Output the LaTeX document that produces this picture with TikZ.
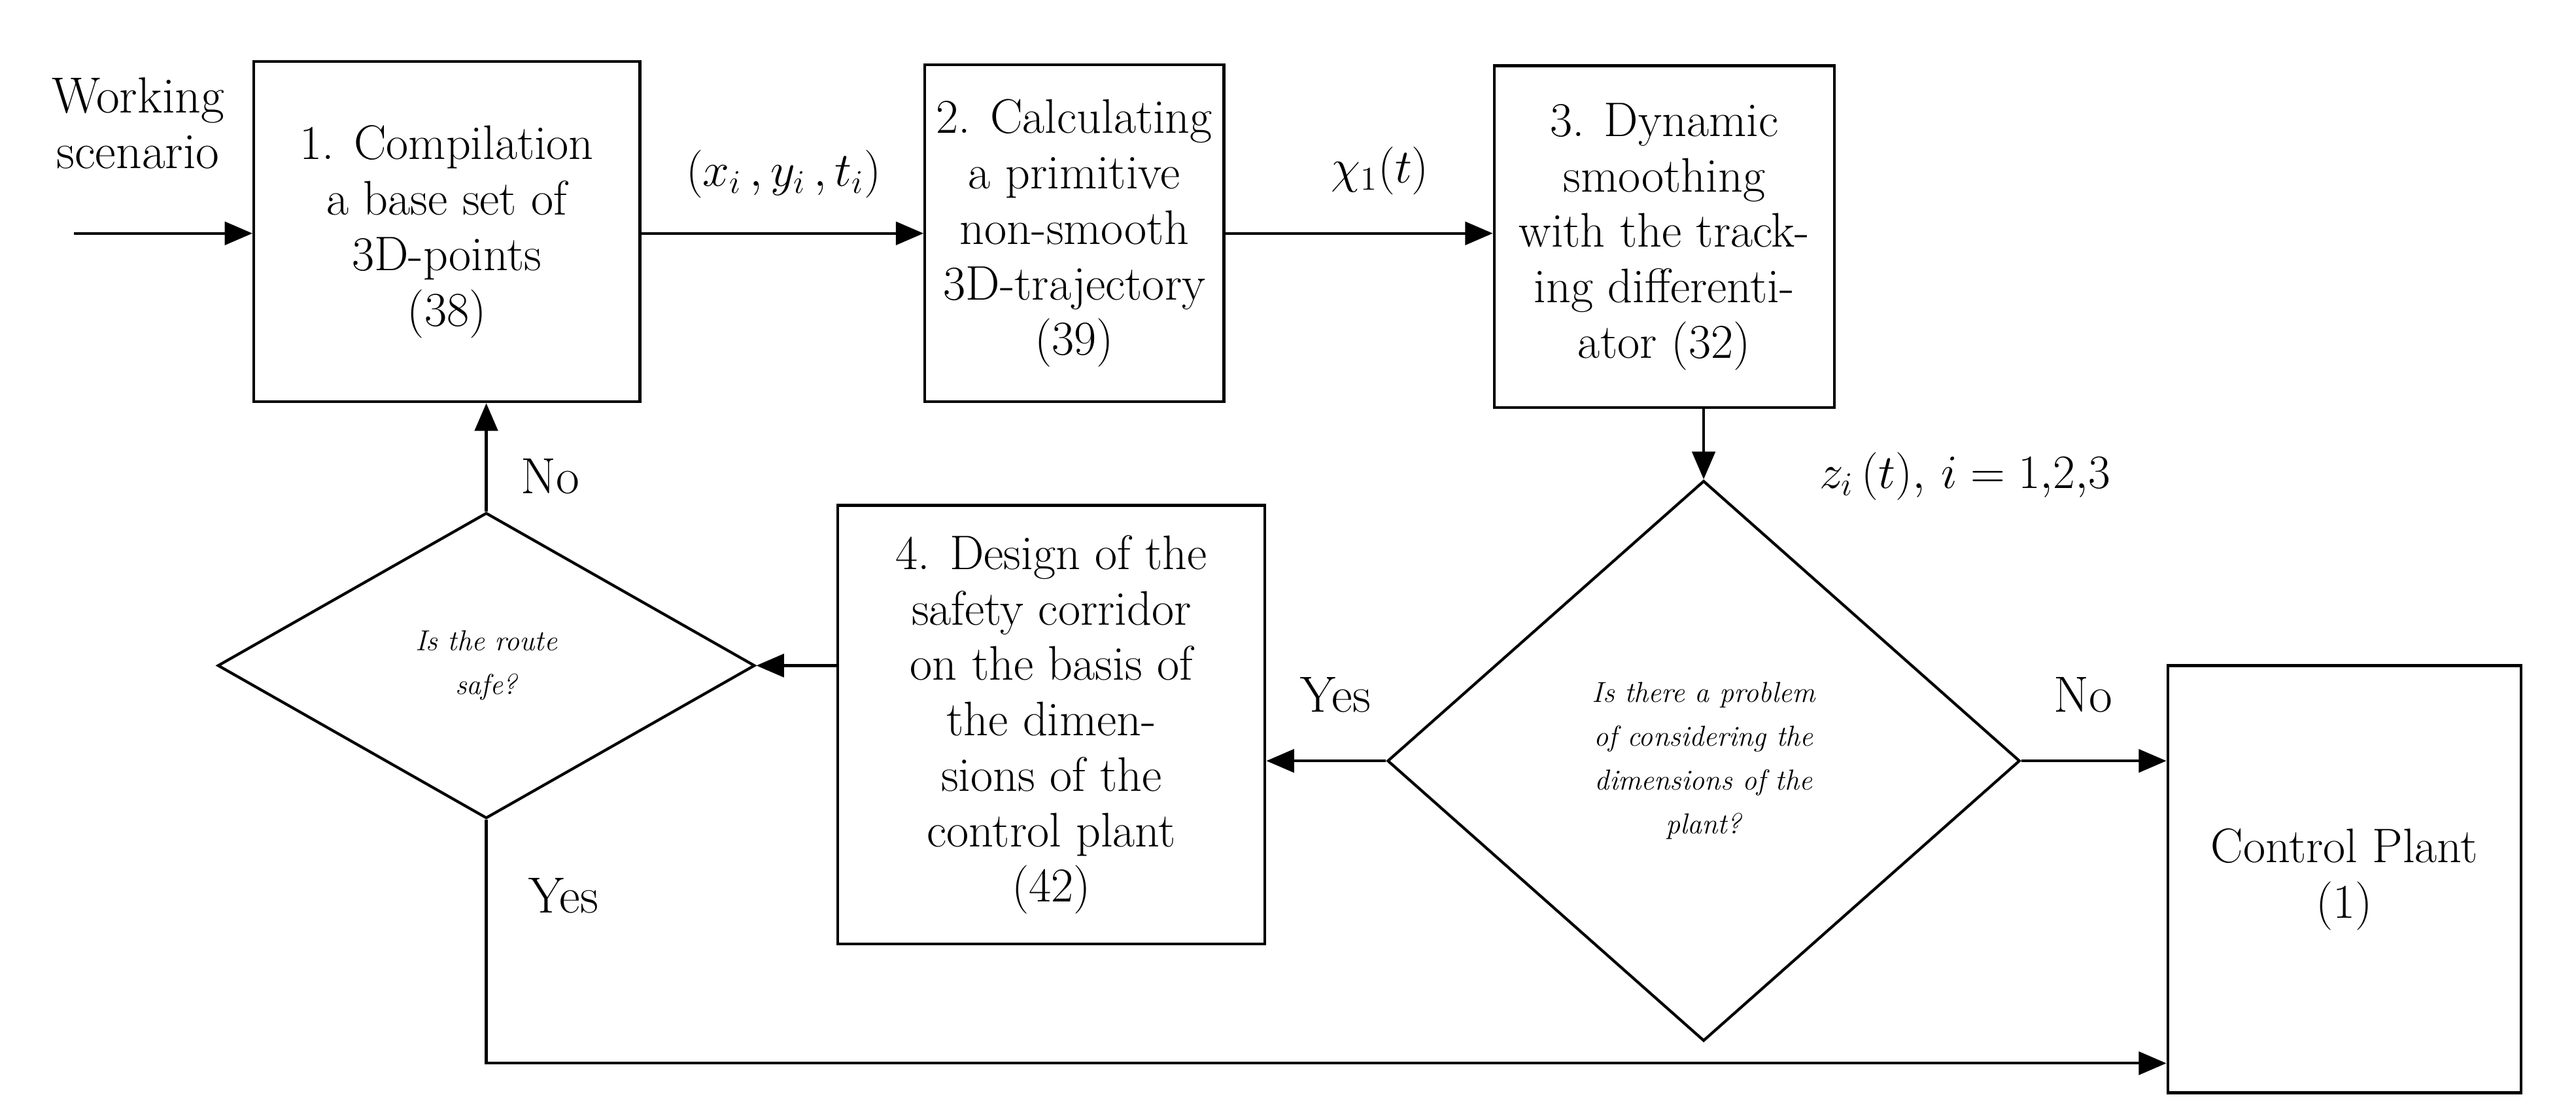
\documentclass[tikz,border=0pt]{standalone}
\usetikzlibrary{shapes.geometric,arrows.meta}
\tikzset{
  box/.style={draw, line width=1.2pt, align=center, inner sep=2pt, font=\fontsize{21}{24}\selectfont},
  dia/.style={draw, diamond, line width=1.2pt, inner sep=0pt, align=center, font=\fontsize{12.5}{19}\selectfont\itshape},
  lbl/.style={font=\fontsize{22}{24}\selectfont},
  flow/.style={line width=1.2pt, -{Triangle[length=12pt,width=10pt]}}
}
\begin{document}
\begin{tikzpicture}[x=0.025cm,y=-0.025cm]
  \useasboundingbox (0,0) rectangle (1568,679);

  % Boxes
  \node[box, minimum width=235*0.025cm, minimum height=207*0.025cm] (comp) at (272,141) {1. Compilation\\a base set of\\3D-points\\(38)};
  \node[box, minimum width=182*0.025cm, minimum height=205*0.025cm] (calc) at (654,142) {2. Calculating\\a primitive\\non-smooth\\3D-trajectory\\(39)};
  \node[box, minimum width=207*0.025cm, minimum height=208*0.025cm] (smooth) at (1013,144) {3. Dynamic\\smoothing\\with the track-\\ing differenti-\\ator (32)};
  \node[box, minimum width=260*0.025cm, minimum height=267*0.025cm] (corr) at (640,441) {4. Design of the\\safety corridor\\on the basis of\\the dimen-\\sions of the\\control plant\\(42)};
  \node[box, minimum width=215*0.025cm, minimum height=260*0.025cm] (plant) at (1427,535) {Control Plant\\(1)};

  % Decisions
  \node[dia, minimum width=327*0.025cm, minimum height=186*0.025cm] (safe) at (296,405) {Is the route\\safe?};
  \node[dia, minimum width=385*0.025cm, minimum height=341*0.025cm] (prob) at (1037,463) {Is there a problem\\of considering the\\dimensions of the\\plant?};

  % Connectors
  \coordinate (start) at (45,142);
  \coordinate (bend) at (296,647);
  \draw[flow] (start) -- (comp.west |- start);
  \draw[flow] (comp.east |- start) -- (calc.west |- start);
  \draw[flow] (calc.east |- start) -- (smooth.west |- start);
  \draw[flow] (smooth.south -| prob.north) -- (prob.north);
  \draw[flow] (prob.west) -- (corr.east |- prob.west);
  \draw[flow] (prob.east) -- (plant.west |- prob.east);
  \draw[flow] (corr.west |- safe.east) -- (safe.east);
  \draw[flow] (safe.north) -- (comp.south -| safe.north);
  \draw[flow] (safe.south) -- (bend) -- (plant.west |- bend);

  % Labels
  \node[lbl, align=center] at (84,75) {Working\\scenario};
  \node[lbl] at (477,106) {$(x_i\,,y_i\,,t_i)$};
  \node[lbl] at (840,104) {$\chi_1(t)$};
  \node[lbl] at (1196,290) {$z_i\,(t),\, i=1{,}2{,}3$};
  \node[lbl] at (335,290) {No};
  \node[lbl] at (343,545) {Yes};
  \node[lbl] at (813,423) {Yes};
  \node[lbl] at (1268,423) {No};
\end{tikzpicture}
\end{document}
